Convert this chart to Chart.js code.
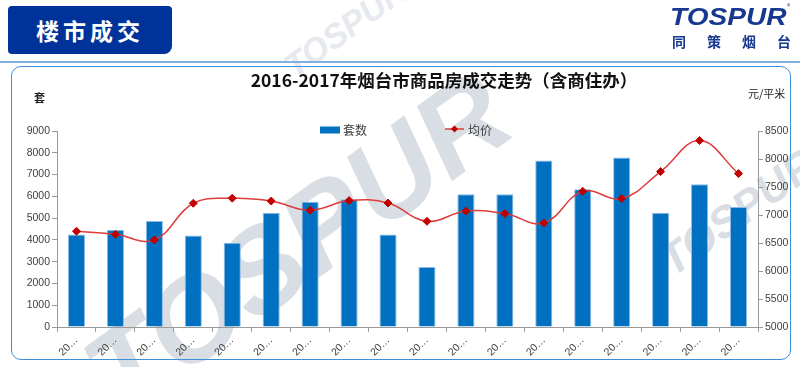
<!DOCTYPE html>
<html><head><meta charset="utf-8">
<script src="https://cdn.jsdelivr.net/npm/chart.js@4.4.0/dist/chart.umd.min.js"></script>
<style>
html,body{margin:0;padding:0;}
body{width:800px;height:367px;overflow:hidden;background:#fff;position:relative;font-family:"Noto Sans CJK SC","Noto Sans",sans-serif;}
.wm{position:absolute;font-family:"Liberation Sans",Arial,sans-serif;font-weight:bold;font-style:italic;color:#d8dee3;white-space:nowrap;line-height:1;transform-origin:center center;z-index:0;}
#hdr{position:absolute;left:8px;top:6px;width:164px;height:48px;background:#003399;border-radius:4px 4px 8px 4px;color:#fff;font-weight:bold;font-size:23px;letter-spacing:4px;text-align:center;line-height:48px;z-index:3;}
#sep{position:absolute;left:0;top:61px;width:800px;height:2px;background:#7fb0e0;z-index:3;}
#frame{position:absolute;left:11px;top:66px;width:780px;height:294px;box-sizing:border-box;border:1.5px solid #3d8edb;border-radius:10px;z-index:1;}
#logo{position:absolute;left:670px;top:4px;font-family:"Liberation Sans",Arial,sans-serif;font-weight:bold;font-style:italic;font-size:23px;color:#16388f;transform:scaleX(1.22);transform-origin:left top;white-space:nowrap;z-index:3;}
#reg{position:absolute;left:787px;top:1px;font-size:7px;color:#16388f;z-index:3;}
#logo2{position:absolute;left:672px;top:31px;font-size:14px;font-weight:bold;color:#16388f;white-space:nowrap;z-index:3;}
#logo2 span{position:absolute;top:0;}
#title{position:absolute;left:444px;top:67px;transform:translateX(-50%);font-size:17.5px;font-weight:bold;color:#111;white-space:nowrap;z-index:3;}
#uL{position:absolute;left:34px;top:89px;font-size:11px;font-weight:bold;color:#222;z-index:3;}
#uR{position:absolute;left:748px;top:85px;font-size:11px;color:#222;z-index:3;}
canvas{position:absolute;left:0;top:0;z-index:2;}
</style></head>
<body>
<div class="wm" style="left:297px;top:243px;font-size:118px;transform:translate(-50%,-50%) rotate(-36deg);">TOSPUR</div>
<div class="wm" style="left:738px;top:212px;font-size:44px;transform:translate(-50%,-50%) rotate(-36deg);">TOSPUR</div>
<div class="wm" style="left:345px;top:28px;font-size:34px;color:#e6eaee;transform:translate(-50%,-50%) rotate(-36deg);">TOSPUR</div>
<div id="hdr">楼市成交</div>
<div id="sep"></div>
<div id="frame"></div>
<div id="logo">TOSPUR</div>
<div id="reg">®</div>
<div id="logo2"><span style="left:0">同</span><span style="left:35px">策</span><span style="left:70px">烟</span><span style="left:105px">台</span></div>
<div id="title">2016-2017年烟台市商品房成交走势（含商住办）</div>
<div id="uL">套</div>
<div id="uR">元/平米</div>
<canvas id="c" width="800" height="367"></canvas>
<script>
const categories = ['2016年1月','2016年2月','2016年3月','2016年4月','2016年5月','2016年6月','2016年7月','2016年8月','2016年9月','2016年10月','2016年11月','2016年12月','2017年1月','2017年2月','2017年3月','2017年4月','2017年5月','2017年6月'];
const unitsSold = [4250,4450,4870,4200,3870,5250,5750,5870,4250,2750,6100,6100,7650,6320,7780,5250,6550,5510];
const avgPrice = [6710,6655,6555,7210,7300,7250,7085,7257,7214,6887,7071,7025,6857,7423,7293,7775,8329,7739];
const leftTicks = [0,1000,2000,3000,4000,5000,6000,7000,8000,9000];
const rightTicks = [5000,5500,6000,6500,7000,7500,8000,8500];
const seriesNames = ['套数','均价'];

const tickFont = {family:'"Liberation Sans", Arial, sans-serif', size:10.5};
const tickColor = '#404040';
const axisColor = '#9a9a9a';

const legendPlugin = {
  id:'customLegend',
  afterDraw(chart){
    const ctx = chart.ctx;
    const ds = chart.data.datasets;
    const bar = ds.find(d=>d.type==='bar');
    const line = ds.find(d=>d.type==='line');
    ctx.save();
    ctx.font = '12px "Noto Sans CJK SC", sans-serif';
    ctx.textBaseline = 'middle';
    ctx.fillStyle = bar.backgroundColor;
    ctx.fillRect(320, 126.5, 20, 7);
    ctx.fillStyle = '#404040';
    ctx.fillText(bar.label, 343, 130);
    ctx.strokeStyle = line.borderColor;
    ctx.lineWidth = 1.5;
    ctx.beginPath(); ctx.moveTo(445,129); ctx.lineTo(464,129); ctx.stroke();
    ctx.fillStyle = line.pointBackgroundColor;
    ctx.beginPath(); ctx.moveTo(454.5,125.5); ctx.lineTo(458,129); ctx.lineTo(454.5,132.5); ctx.lineTo(451,129); ctx.closePath(); ctx.fill();
    ctx.fillStyle = '#404040';
    ctx.fillText(line.label, 468, 130);
    ctx.restore();
  }
};

new Chart(document.getElementById('c'), {
  type:'bar',
  data:{
    labels:categories,
    datasets:[
      {type:'line',label:seriesNames[1],data:avgPrice,yAxisID:'y1',borderColor:'#de3b3b',borderWidth:1.5,tension:0.4,
       pointStyle:'rectRot',pointRadius:4,pointBackgroundColor:'#c00000',pointBorderColor:'#c00000',pointBorderWidth:1,order:1,fill:false},
      {type:'bar',label:seriesNames[0],data:unitsSold,yAxisID:'y',backgroundColor:'#0070c0',borderColor:'#8fbbe8',borderWidth:{top:1,left:1,right:1,bottom:0},
       barPercentage:0.44,categoryPercentage:1,order:2}
    ]
  },
  options:{
    responsive:false,animation:false,devicePixelRatio:1,
    layout:{padding:{left:12,right:0,top:131,bottom:10}},
    plugins:{legend:{display:false},title:{display:false},tooltip:{enabled:false}},
    scales:{
      x:{
        offset:true,
        grid:{display:true,drawOnChartArea:false,drawTicks:true,tickLength:5,color:axisColor,offset:true},
        border:{display:true,color:axisColor},
        ticks:{autoSkip:false,maxRotation:45,minRotation:45,font:tickFont,color:tickColor,padding:2,
          callback:(v,i)=>categories[i].slice(0,2)+'…'},
        afterFit:s=>{s.height=30;}
      },
      y:{
        position:'left',min:leftTicks[0],max:leftTicks[leftTicks.length-1],
        afterBuildTicks:s=>{s.ticks=leftTicks.map(v=>({value:v}));},
        grid:{drawOnChartArea:false,drawTicks:true,tickLength:5,color:axisColor},
        border:{display:true,color:axisColor},
        ticks:{font:tickFont,color:tickColor,padding:2,callback:v=>String(v)},
        afterFit:s=>{s.width=45;}
      },
      y1:{
        position:'right',min:rightTicks[0],max:rightTicks[rightTicks.length-1],
        afterBuildTicks:s=>{s.ticks=rightTicks.map(v=>({value:v}));},
        grid:{drawOnChartArea:false,drawTicks:true,tickLength:5,color:axisColor},
        border:{display:true,color:axisColor},
        ticks:{font:tickFont,color:tickColor,padding:2,callback:v=>String(v)},
        afterFit:s=>{s.width=42;}
      }
    }
  },
  plugins:[legendPlugin]
});
</script>
</body></html>
